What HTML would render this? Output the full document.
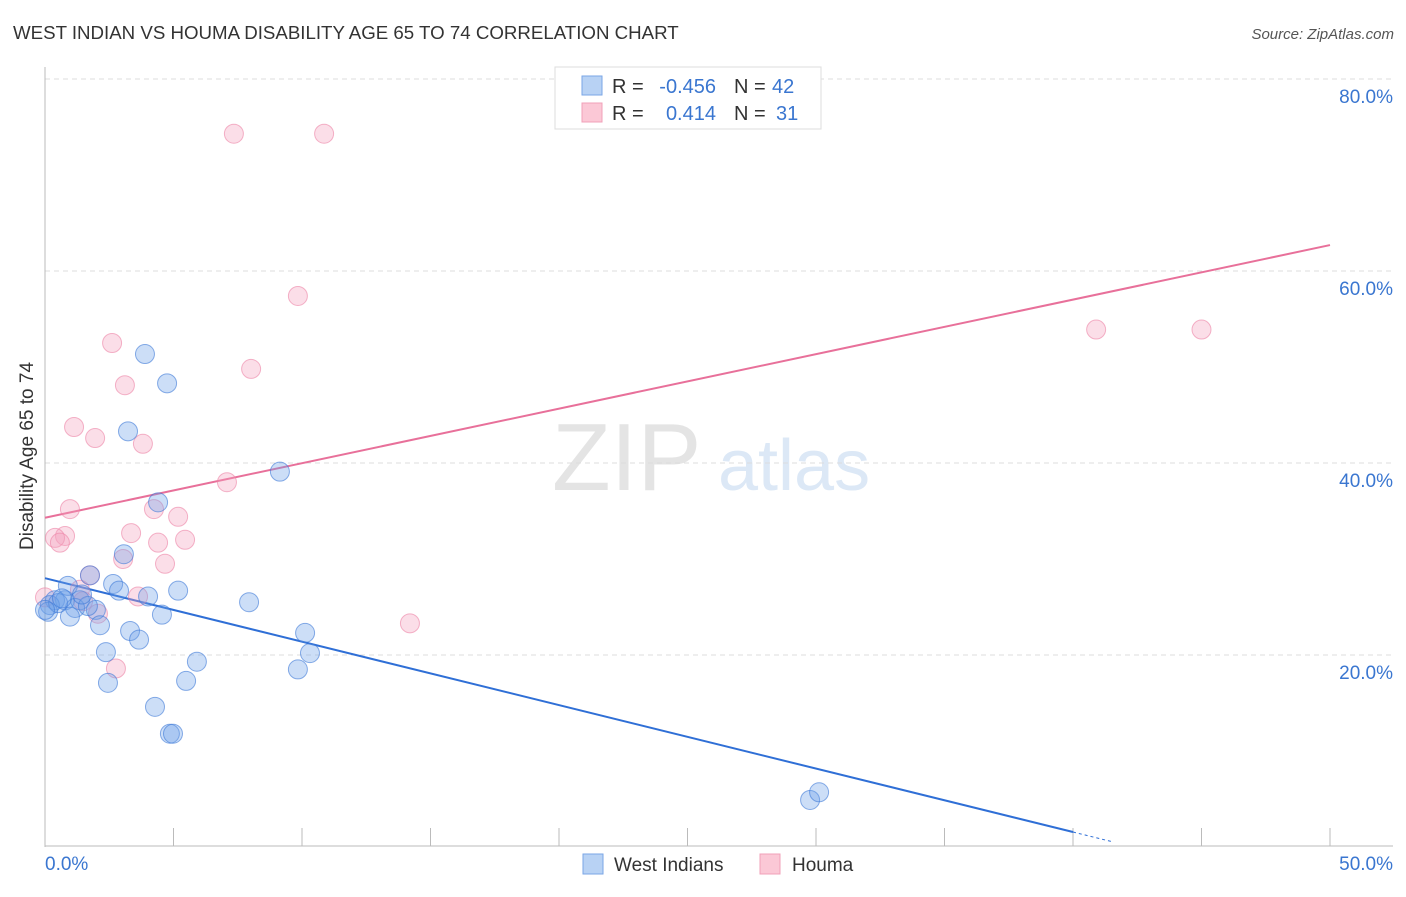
<!DOCTYPE html>
<html><head><meta charset="utf-8">
<style>
body{margin:0;background:#fff;font-family:"Liberation Sans",sans-serif;}
svg text{font-family:"Liberation Sans",sans-serif;}
</style></head>
<body>
<svg id="chart" width="1406" height="892" viewBox="0 0 1406 892" xmlns="http://www.w3.org/2000/svg">
<text x="13" y="39" font-size="18.7" fill="#333">WEST INDIAN VS HOUMA DISABILITY AGE 65 TO 74 CORRELATION CHART</text>
<text x="1394" y="39" font-size="15" fill="#555" text-anchor="end" font-style="italic">Source: ZipAtlas.com</text>
<g>
<text x="552" y="490" font-size="96" fill="#e4e4e4" font-family="Liberation Serif,serif">ZIP</text>
<text x="718" y="490" font-size="72" fill="#dce8f6">atlas</text>
</g>
<g id="grid"></g>
<g id="axes"></g>
<g id="lines"></g>
<g id="points"></g>
<text transform="translate(33,456) rotate(-90)" font-size="19" fill="#333" text-anchor="middle">Disability Age 65 to 74</text>
<g>
<rect x="555" y="67" width="266" height="62" fill="#fff" stroke="#ddd"/>
<rect x="582" y="76" width="20" height="19" fill="#b8d2f4" stroke="#7aa6e6"/>
<rect x="582" y="103" width="20" height="19" fill="#fbc8d6" stroke="#f0a0b8"/>
<text x="612" y="93" font-size="20" fill="#333">R =</text>
<text x="716" y="93" font-size="20" fill="#3a76d0" text-anchor="end">-0.456</text>
<text x="734" y="93" font-size="20" fill="#333">N =</text>
<text x="772" y="93" font-size="20" fill="#3a76d0">42</text>
<text x="612" y="120" font-size="20" fill="#333">R =</text>
<text x="716" y="120" font-size="20" fill="#3a76d0" text-anchor="end">0.414</text>
<text x="734" y="120" font-size="20" fill="#333">N =</text>
<text x="776" y="120" font-size="20" fill="#3a76d0">31</text>
</g>
<g>
<rect x="583" y="854" width="20" height="20" fill="#b8d2f4" stroke="#7aa6e6"/>
<text x="614" y="871" font-size="19" fill="#333">West Indians</text>
<rect x="760" y="854" width="20" height="20" fill="#fbc8d6" stroke="#f0a0b8"/>
<text x="792" y="871" font-size="19" fill="#333">Houma</text>
</g>
</svg>
<script>
const blueX=[3.89,4.75,3.23,4.40,9.14,3.07,1.75,2.65,2.88,4.01,5.18,7.94,0.39,0.78,0.19,1.36,0.89,1.17,1.98,0.97,2.14,4.55,3.31,3.66,10.12,10.31,2.37,5.91,9.84,2.45,5.49,4.28,4.86,4.98,29.77,30.12,0.12,0.51,1.67,1.44,0,0.66];
const blueY=[51.35,48.3,43.3,35.9,39.1,30.5,28.3,27.4,26.7,26.1,26.7,25.5,25.7,25.7,25.2,25.7,27.2,24.9,24.7,24.0,23.1,24.2,22.5,21.6,22.3,20.2,20.3,19.3,18.5,17.1,17.3,14.6,11.8,11.8,4.9,5.7,24.5,25.4,25.1,26.3,24.7,25.9];
const pinkX=[7.35,10.86,9.84,2.61,8.02,3.11,1.13,1.95,3.81,7.08,0.97,4.24,5.18,0.78,0.39,0.58,3.35,4.40,5.45,4.67,3.04,1.75,3.62,1.36,2.06,2.76,14.2,40.9,45.0,0,1.48];
const pinkY=[74.3,74.3,57.4,52.5,49.8,48.1,43.75,42.6,42.0,38.0,35.2,35.2,34.4,32.4,32.2,31.7,32.7,31.7,32.0,29.5,30.0,28.3,26.1,26.8,24.3,18.6,23.3,53.9,53.9,26.0,25.6];
const blueTrend=[28.0,1.56,40.0];
const pinkTrend=[34.3,62.7];
const yTicks=[20,40,60,80];
const yTickLabels=["20.0%","40.0%","60.0%","80.0%"];
const xTicks=[0,5,10,15,20,25,30,35,40,45,50];

const NS="http://www.w3.org/2000/svg";
const sx=v=>45+v*25.7;
const sy=v=>847-v*9.6;
function mk(tag,attrs,parent){const e=document.createElementNS(NS,tag);for(const k in attrs)e.setAttribute(k,attrs[k]);parent.appendChild(e);return e;}
const grid=document.getElementById('grid'),axes=document.getElementById('axes'),lines=document.getElementById('lines'),pts=document.getElementById('points');
yTicks.forEach((t,i)=>{
 const l=mk('line',{x1:45,x2:1393,y1:sy(t),y2:sy(t),stroke:'#ddd','stroke-dasharray':'5,4'},grid);
 
 
 const tx=mk('text',{x:1393,y:sy(t)+24,'font-size':19,fill:'#3a76d0','text-anchor':'end'},axes);
 tx.textContent=yTickLabels[i];
 
 
});
mk('line',{x1:45,x2:45,y1:67,y2:847,stroke:'#bbb'},axes);
mk('line',{x1:45,x2:1393,y1:846,y2:846,stroke:'#bbb'},axes);
xTicks.forEach(t=>{
 const l=mk('line',{x1:sx(t),x2:sx(t),y1:828,y2:846,stroke:'#bbb'},axes);
 
 
});
const x0=mk('text',{x:45,y:870,'font-size':19,fill:'#3a76d0'},axes);x0.textContent="0.0%";


const x1=mk('text',{x:1393,y:870,'font-size':19,fill:'#3a76d0','text-anchor':'end'},axes);x1.textContent="50.0%";



function dots(X,Y,fill,stroke,name){X.forEach((x,i)=>{
 const c=mk('circle',{cx:sx(x),cy:sy(Y[i]),r:9.5,fill:fill,stroke:stroke,'stroke-width':1},pts);
 
 
});}
dots(pinkX,pinkY,'rgba(244,160,188,0.35)','rgba(236,130,165,0.6)','houma-point');
dots(blueX,blueY,'rgba(110,160,232,0.35)','rgba(60,120,215,0.6)','west-indian-point');

const slope=(blueTrend[1]-blueTrend[0])/blueTrend[2];
const bl=mk('line',{x1:sx(0),y1:sy(blueTrend[0]),x2:sx(blueTrend[2]),y2:sy(blueTrend[1]),stroke:'#2f6fd6','stroke-width':2},lines);


const bd=mk('line',{x1:sx(blueTrend[2]),y1:sy(blueTrend[1]),x2:sx(41.5),y2:sy(blueTrend[0]+slope*41.5),stroke:'#2f6fd6','stroke-width':1,'stroke-dasharray':'3,3'},lines);


const pl=mk('line',{x1:sx(0),y1:sy(pinkTrend[0]),x2:sx(50),y2:sy(pinkTrend[1]),stroke:'#e8709a','stroke-width':2},lines);


</script>
</body></html>
